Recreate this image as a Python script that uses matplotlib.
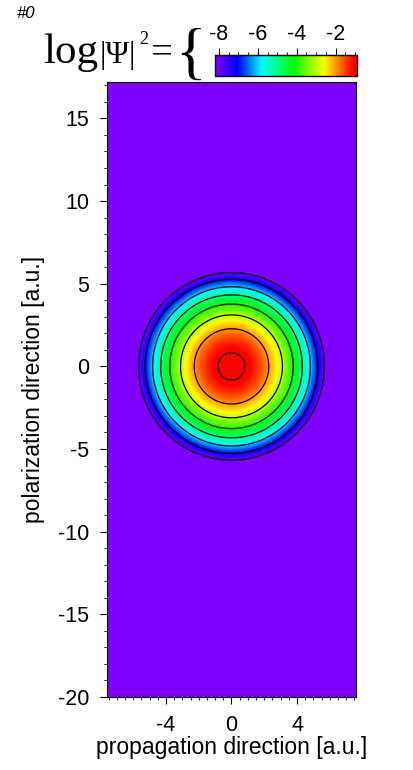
import numpy as np
import matplotlib.pyplot as plt
from matplotlib.colors import LinearSegmentedColormap
from matplotlib.ticker import MultipleLocator

PEAK_LOG = -0.85
WIDTH_SQ = 4.5  # a.u.^2 per decade
CONTOUR_LEVELS = [-8, -7, -6, -5, -4, -3, -2, -1]

X_RANGE = (-7.6, 7.6)
Y_RANGE = (-20, 17.2)
X_TICKS = [-4, 0, 4]
Y_TICKS = [-20, -15, -10, -5, 0, 5, 10, 15]
CBAR_TICKS = [-8, -6, -4, -2]
CBAR_RANGE = (-8.2, -0.9)

CMAP_STOPS = [(0.0, "#7f00ff"), (0.16, "#0000ff"), (0.33, "#00ffff"),
              (0.56, "#00ff00"), (0.77, "#ffff00"), (0.97, "#ff0000"),
              (1.0, "#ff0000")]

W, H = 413, 770


def main():
    plt.rcParams["font.family"] = ["Liberation Sans", "DejaVu Sans"]
    plt.rcParams["axes.unicode_minus"] = False
    cmap = LinearSegmentedColormap.from_list("psi", CMAP_STOPS)

    fig = plt.figure(figsize=(W / 100, H / 100), dpi=100)
    ax = fig.add_axes([107 / W, 1 - 697 / H, (356 - 107) / W, (697 - 82) / H])

    # the density field
    x = np.linspace(*X_RANGE, 400)
    y = np.linspace(*Y_RANGE, 900)
    X, Y = np.meshgrid(x, y)
    Z = PEAK_LOG - (X ** 2 + Y ** 2) / WIDTH_SQ

    im = ax.imshow(Z, extent=(*X_RANGE, *Y_RANGE), origin="lower", cmap=cmap,
                   vmin=CBAR_RANGE[0], vmax=CBAR_RANGE[1], aspect="auto",
                   interpolation="bilinear")
    ax.contour(X, Y, Z, levels=CONTOUR_LEVELS, colors="k", linewidths=0.9,
               linestyles="solid")

    ax.set_xlim(*X_RANGE)
    ax.set_ylim(*Y_RANGE)
    ax.set_xticks(X_TICKS)
    ax.set_yticks(Y_TICKS)
    ax.xaxis.set_minor_locator(MultipleLocator(0.5))
    ax.yaxis.set_minor_locator(MultipleLocator(1))
    ax.tick_params(which="major", direction="out", length=5, width=0.8,
                   labelsize=15.5, pad=8)
    ax.tick_params(which="minor", direction="out", length=2.5, width=0.6)
    ax.tick_params(axis="y", pad=8)

    ax.set_xlabel("propagation direction [a.u.]", fontsize=16.5)
    ax.set_ylabel("polarization direction [a.u.]", fontsize=16.5)
    ax.xaxis.set_label_coords(0.5, -0.064)
    ax.yaxis.set_label_coords(-0.25, 0.5)

    # colorbar at the top right
    cax = fig.add_axes([215 / W, 1 - 76 / H, (357 - 215) / W, 21 / H])
    cb = fig.colorbar(im, cax=cax, orientation="horizontal", ticklocation="top")
    cb.set_ticks(CBAR_TICKS)
    cb.ax.xaxis.set_minor_locator(MultipleLocator(0.5))
    cb.ax.tick_params(which="major", direction="out", length=5, width=0.8,
                      labelsize=15.5, pad=2)
    cb.ax.tick_params(which="minor", direction="out", length=2.5, width=0.6)
    cb.outline.set_linewidth(1.0)

    # title pieces
    serif = ["Liberation Serif", "DejaVu Serif"]
    fig.text(17 / W, 1 - 18 / H, "#0", fontsize=12, style="italic")
    fig.text(43 / W, 1 - 63 / H, "log", family=serif, fontsize=31)
    fig.text(100 / W, 1 - 63 / H, "|\u03a8|", family=serif, fontsize=23)
    fig.text(139 / W, 1 - 44 / H, "2", family=serif, fontsize=13)
    fig.text(150 / W, 1 - 63 / H, "=", family=serif, fontsize=28)
    fig.text(175 / W, 1 - 73 / H, "{", family=serif, fontsize=46)

    fig.savefig("out.png", dpi=100)


if __name__ == "__main__":
    main()
